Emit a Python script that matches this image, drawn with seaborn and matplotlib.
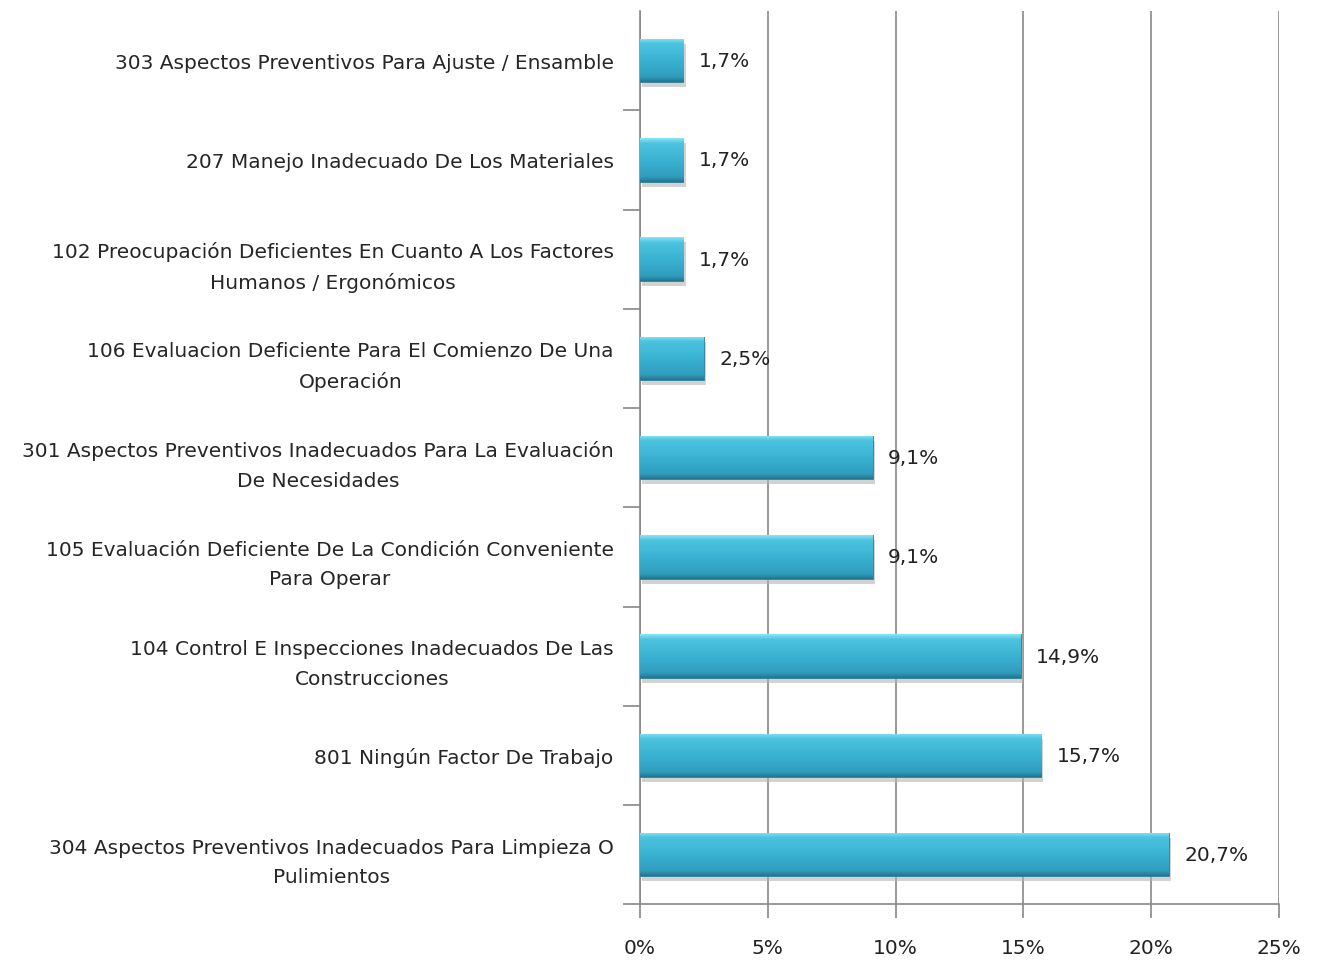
import numpy as np
import pandas as pd
import matplotlib
matplotlib.use("Agg")
import matplotlib.pyplot as plt
from matplotlib.colors import LinearSegmentedColormap
import seaborn as sns

categorias = [
    "303 Aspectos Preventivos Para Ajuste / Ensamble",
    "207 Manejo Inadecuado De Los Materiales",
    "102 Preocupación Deficientes En Cuanto A Los Factores\nHumanos / Ergonómicos",
    "106 Evaluacion Deficiente Para El Comienzo De Una\nOperación",
    "301 Aspectos Preventivos Inadecuados Para La Evaluación\nDe Necesidades",
    "105 Evaluación Deficiente De La Condición Conveniente\nPara Operar",
    "104 Control E Inspecciones Inadecuados De Las\nConstrucciones",
    "801 Ningún Factor De Trabajo",
    "304 Aspectos Preventivos Inadecuados Para Limpieza O\nPulimientos",
]
porcentajes = [1.7, 1.7, 1.7, 2.5, 9.1, 9.1, 14.9, 15.7, 20.7]
etiquetas = ["1,7%", "1,7%", "1,7%", "2,5%", "9,1%", "9,1%", "14,9%", "15,7%", "20,7%"]
ticks_x = [0, 5, 10, 15, 20, 25]

df = pd.DataFrame({"categoria": categorias, "valor": porcentajes})

sns.set_style("white", {"xtick.bottom": True, "ytick.left": True})
plt.rcParams["font.family"] = ["DejaVu Sans"]

fig = plt.figure(figsize=(13.17, 9.62), dpi=100)
ax = fig.add_axes([0.486, 0.059, 0.485, 0.9285])

sns.barplot(data=df, x="valor", y="categoria", orient="h", color="#38b0d0",
            width=0.44, ax=ax, zorder=3)

# gradient shading on every bar (light top edge, darker bottom)
cmap = LinearSegmentedColormap.from_list(
    "bar", [(0.0, "#8ae6f7"), (0.12, "#4cc4e0"), (0.5, "#3ab2d2"),
            (0.88, "#2f9dbd"), (1.0, "#23758e")])
grad = np.linspace(0, 1, 256).reshape(-1, 1)
for p in ax.patches:
    x0, y0 = p.get_x(), p.get_y()
    w, h = p.get_width(), p.get_height()
    ax.add_patch(plt.Rectangle((x0 + 0.08, y0 + 0.05), w, h, color="#b5b5b5",
                               alpha=0.6, zorder=2, lw=0))
    im = ax.imshow(grad, aspect="auto", cmap=cmap,
                   extent=(x0, x0 + w, y0 + h, y0), origin="upper", zorder=4)
    im.set_clip_path(p)
    p.set_edgecolor("#2a7f98")
    p.set_linewidth(0.6)

for i, (v, t) in enumerate(zip(porcentajes, etiquetas)):
    ax.text(v + 0.6, i, t, va="center", ha="left", fontsize=14.5,
            color="#222222", zorder=5)

ax.set_xlim(0, 25)
ax.set_ylim(8.5, -0.5)
ax.set_xticks(ticks_x)
ax.set_xticklabels([f"{t}%" for t in ticks_x], fontsize=14.5)
ax.set_xlabel("")
ax.set_ylabel("")
ax.tick_params(axis="y", which="major", length=0, pad=19, labelsize=14.5)
for lab in ax.get_yticklabels():
    lab.set_multialignment("center")
    lab.set_linespacing(1.7)
ax.set_yticks(np.arange(0.5, 9.0, 1.0), minor=True)
ax.tick_params(axis="y", which="minor", length=12, color="#888888", width=1.2)
ax.tick_params(axis="x", length=10, color="#888888", width=1.2, pad=14,
               labelcolor="#222222")

ax.grid(axis="x", color="#888888", linewidth=1.2, zorder=0)
ax.set_axisbelow(True)
for s in ["top", "right"]:
    ax.spines[s].set_visible(False)
for s in ["left", "bottom"]:
    ax.spines[s].set_color("#888888")
    ax.spines[s].set_linewidth(1.2)

fig.savefig("out.png", dpi=100)
